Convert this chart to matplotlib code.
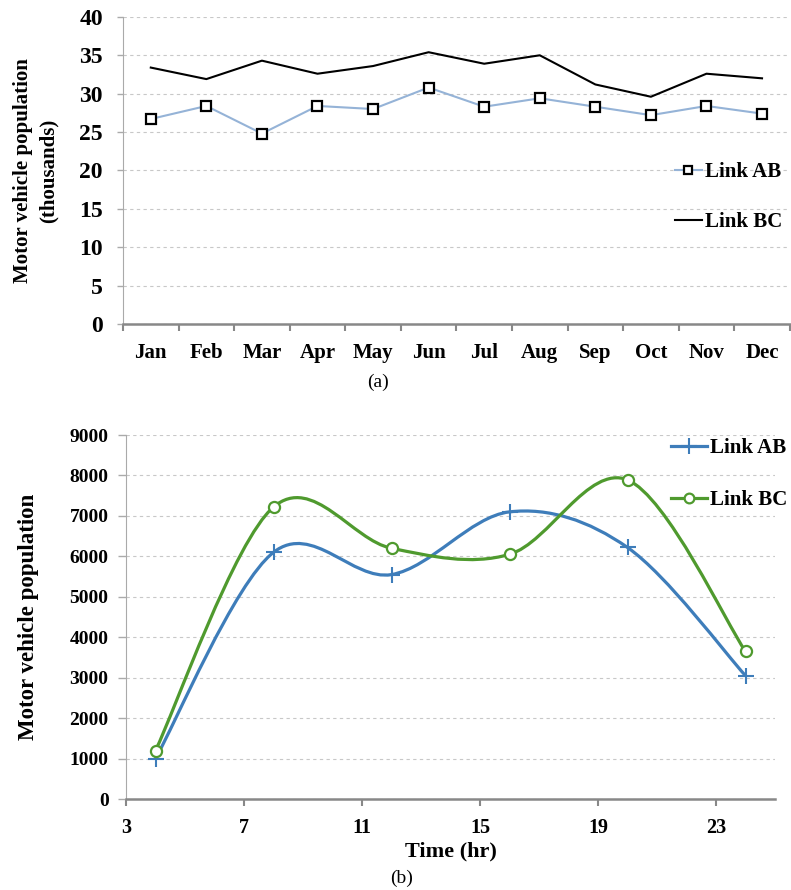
import numpy as np
import matplotlib
matplotlib.use("Agg")
import matplotlib.pyplot as plt
from matplotlib.path import Path
from matplotlib.patches import PathPatch
from matplotlib.lines import Line2D

plt.rcParams["font.family"] = ["Liberation Serif", "DejaVu Serif"]

# (a) monthly motor vehicle population (thousands)
months = ["Jan", "Feb", "Mar", "Apr", "May", "Jun", "Jul", "Aug", "Sep", "Oct", "Nov", "Dec"]
link_ab_month = [26.7, 28.4, 24.8, 28.4, 28.0, 30.8, 28.3, 29.4, 28.3, 27.2, 28.4, 27.4]
link_bc_month = [33.4, 31.9, 34.3, 32.6, 33.6, 35.4, 33.9, 35.0, 31.2, 29.6, 32.6, 32.0]

# (b) hourly motor vehicle population
hours = [4, 8, 12, 16, 20, 24]
link_ab_hour = [1000, 6100, 5550, 7100, 6220, 3050]
link_bc_hour = [1200, 7220, 6200, 6050, 7890, 3650]

blue = "#3E7DBA"
green = "#4F9A2E"
grid_kw = dict(color="#c8c8c8", linestyle=(0, (3, 3)), linewidth=0.8)


def smooth_path(x, y):
    # Excel-like smoothed line: Catmull-Rom segments as cubic Beziers
    pts = np.column_stack([x, y]).astype(float)
    ext = np.vstack([pts[0], pts, pts[-1]])
    verts = [pts[0]]
    codes = [Path.MOVETO]
    for i in range(len(pts) - 1):
        p0, p1, p2, p3 = ext[i], ext[i + 1], ext[i + 2], ext[i + 3]
        verts += [p1 + (p2 - p0) / 6, p2 - (p3 - p1) / 6, p2]
        codes += [Path.CURVE4] * 3
    return Path(verts, codes)


fig = plt.figure(figsize=(7.91, 8.90), dpi=100)

# ---- panel (a)
ax1 = fig.add_axes([0.1555, 0.636, 0.843, 0.345])
xs = np.arange(len(months))
ax1.plot(xs, link_ab_month, color="#95B3D7", lw=1.5, marker="s", ms=6.5,
         mfc="white", mec="black", mew=1.6, label="Link AB")
ax1.plot(xs, link_bc_month, color="black", lw=1.5, label="Link BC")
ax1.set_xlim(-0.5, len(months) - 0.5)
ax1.set_ylim(0, 40)
ax1.set_yticks(range(0, 41, 5))
ax1.set_xticks(xs)
ax1.set_xticklabels(months, fontweight="bold", fontsize=15)
ax1.set_xticks(np.arange(-0.5, len(months)), minor=True)
ax1.tick_params(axis="x", which="major", length=0, pad=14)
ax1.tick_params(axis="x", which="minor", length=5, width=1.5, color="#888888")
ax1.tick_params(axis="y", length=4.5, width=1, color="#aaaaaa", labelsize=17, pad=10)
for t in ax1.get_yticklabels():
    t.set_fontweight("bold")
ax1.yaxis.grid(True, **grid_kw)
ax1.set_axisbelow(True)
for s in ["top", "right"]:
    ax1.spines[s].set_visible(False)
ax1.spines["left"].set_color("#aaaaaa")
ax1.spines["bottom"].set_color("#888888")
ax1.spines["bottom"].set_linewidth(1.8)
ax1.set_ylabel("Motor vehicle population\n(thousands)", fontweight="bold",
               fontsize=15, labelpad=15, linespacing=1.35)
ax1.legend(loc="upper left", bbox_to_anchor=(0.853, 0.818), bbox_transform=fig.transFigure,
           frameon=False, prop=dict(weight="bold", size=15), handlelength=1.3,
           handletextpad=0.15, labelspacing=1.45, borderpad=0, borderaxespad=0,
           markerscale=0.85)
fig.text(0.478, 0.570, "(a)", ha="center", va="center", fontsize=14)

# ---- panel (b)
ax2 = fig.add_axes([0.1593, 0.1022, 0.8205, 0.409])
ax2.add_patch(PathPatch(smooth_path(hours, link_ab_hour), fill=False, edgecolor=blue, lw=2.3))
ax2.add_patch(PathPatch(smooth_path(hours, link_bc_hour), fill=False, edgecolor=green, lw=2.3))
ax2.plot(hours, link_ab_hour, linestyle="none", marker="+", ms=11, mew=1.5, color=blue)
ax2.plot(hours, link_bc_hour, linestyle="none", marker="o", ms=8, mew=1.6,
         mfc="white", mec=green)
ax2.set_xlim(3, 25)
ax2.set_ylim(0, 9000)
ax2.set_xticks(range(3, 24, 4))
ax2.set_yticks(range(0, 9001, 1000))
ax2.tick_params(axis="x", length=5, width=1.5, color="#888888", labelsize=14.5, pad=9)
ax2.tick_params(axis="y", length=5.5, width=1, color="#aaaaaa", labelsize=14, pad=7)
for t in ax2.get_xticklabels() + ax2.get_yticklabels():
    t.set_fontweight("bold")
ax2.yaxis.grid(True, **grid_kw)
ax2.set_axisbelow(True)
for s in ["top", "right"]:
    ax2.spines[s].set_visible(False)
ax2.spines["left"].set_color("#aaaaaa")
ax2.spines["bottom"].set_color("#888888")
ax2.spines["bottom"].set_linewidth(1.8)
ax2.set_ylabel("Motor vehicle population", fontweight="bold", fontsize=16.5, labelpad=22)
ax2.set_xlabel("Time (hr)", fontweight="bold", fontsize=16, labelpad=2)
handles = [
    Line2D([], [], color=blue, lw=2.3, marker="+", ms=11, mew=1.5),
    Line2D([], [], color=green, lw=2.3, marker="o", ms=7, mew=1.6, mfc="white", mec=green),
]
ax2.legend(handles, ["Link AB", "Link BC"], loc="upper left", bbox_to_anchor=(0.848, 0.508),
           bbox_transform=fig.transFigure, frameon=False,
           prop=dict(weight="bold", size=15), handlelength=1.75, handletextpad=0.15,
           labelspacing=1.55, borderpad=0, borderaxespad=0)
fig.text(0.508, 0.013, "(b)", ha="center", va="center", fontsize=14)

fig.savefig("out.png", dpi=100)
